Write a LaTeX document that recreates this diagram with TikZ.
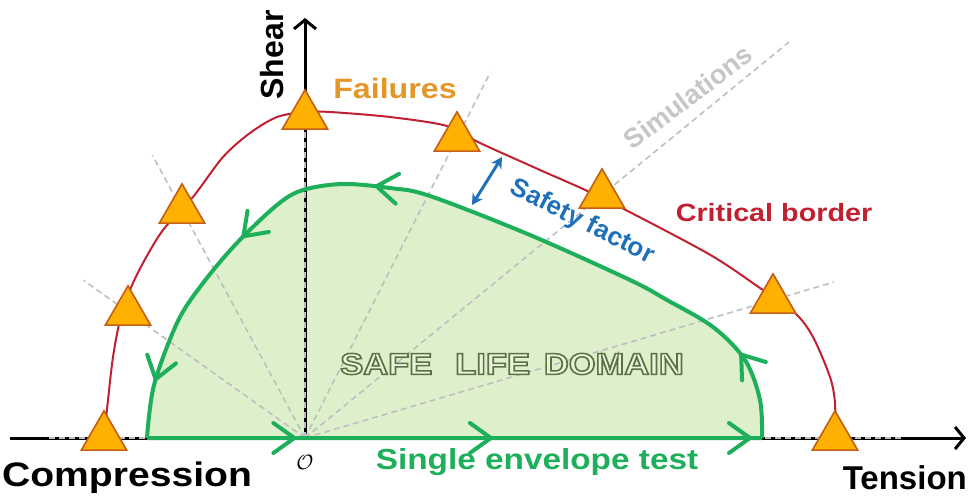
\documentclass[tikz,border=0pt]{standalone}
\usepackage{fontspec}
\setmainfont{Liberation Sans}
\usetikzlibrary{arrows.meta,calc,decorations.markings,shapes.geometric}
\definecolor{envgreen}{RGB}{30,175,90}
\definecolor{safegreen}{RGB}{222,239,203}
\definecolor{borderred}{RGB}{192,32,48}
\definecolor{failfill}{RGB}{255,176,0}
\definecolor{faildraw}{RGB}{196,96,24}
\definecolor{failtext}{RGB}{228,150,40}
\definecolor{safeblue}{RGB}{30,112,186}
\tikzset{
  failure/.style={regular polygon,regular polygon sides=3,minimum size=52pt,inner sep=0pt,
    fill=failfill,draw=faildraw,line width=1.5pt},
  ray/.style={gray!50,line width=1.6pt,dash pattern=on 6pt off 4pt},
  axis/.style={line width=3pt,-{Straight Barb[length=9pt,width=22pt,line width=3pt]}},
  lbl/.style={font=\bfseries,inner sep=0pt,xscale=1.15,transform shape},
  rlbl/.style={font=\bfseries,inner sep=0pt},
  chev/.style={decoration={markings,mark=at position #1 with
    {\draw[envgreen,line width=4pt,line cap=round,line join=round] (-21pt,15pt) -- (0pt,0pt) -- (-21pt,-15pt);}}},
  envelope/.style={envgreen,line width=4pt,line join=round,
    postaction={decorate,chev=0.099},postaction={decorate,chev=0.231},
    postaction={decorate,chev=0.405},postaction={decorate,chev=0.472},
    postaction={decorate,chev=0.745},postaction={decorate,chev=0.846},
    postaction={decorate,chev=0.960}},
}
\newcommand\outlinetext[1]{\special{pdf:literal direct 2 Tr 1.5 w 0.36 0.44 0.27 RG}#1\special{pdf:literal direct 0 Tr}}
\begin{document}
\begin{tikzpicture}[x=1pt,y=-1pt]
  \useasboundingbox (0,0) rectangle (968,495);
  \coordinate (O) at (305,438);
  \coordinate (xl) at (10,438);
  \coordinate (xr) at (966,438);
  \coordinate (yt) at (305,18);
  % envelope
  \coordinate (e0) at (147,438);
  \coordinate (e1) at (762,438);
  \fill[safegreen] (e0) -- (e1) plot[smooth,tension=0.55] coordinates {(e1) (760,400) (745,360) (713,327) (667,300) (630,280) (530,235) (430,196) (390,188) (343,184) (303,190) (277,205) (235,245) (200,287) (177,323) (154,385) (e0)} -- cycle;
  % axes
  \draw[axis] (xl) -- (xr);
  \draw[axis] (O) -- (yt);
  % failures
  \node[failure] (f1) at (104,437) {};
  \node[failure] (f2) at (128,312) {};
  \node[failure] (f3) at (182,210) {};
  \node[failure] (f4) at (305,116) {};
  \node[failure] (f5) at (457,138) {};
  \node[failure] (f6) at (602,195) {};
  \node[failure] (f7) at (773,300) {};
  \node[failure] (f8) at (835,437) {};
  % simulations
  \draw[ray] (O) -- (45,438);
  \draw[ray] (O) -- (903,438);
  \draw[ray] (O) -- ($(O)!1.05!(f4)$);
  \foreach \f/\k in {f2/1.25,f3/1.24,f5/1.22,f6/1.63,f7/1.13}
    \draw[ray] (O) -- ($(O)!\k!(\f)$);
  \draw[envelope] (e0) -- (e1) plot[smooth,tension=0.55] coordinates {(e1) (760,400) (745,360) (713,327) (667,300) (630,280) (530,235) (430,196) (390,188) (343,184) (303,190) (277,205) (235,245) (200,287) (177,323) (154,385) (e0)};
  % critical border
  \draw[borderred,line width=2pt] plot[smooth,tension=0.5] coordinates {(f1) (108,400) (113,357) (120,320) (130,290) (143,263) (163,230) (193,197) (223,157) (250,133) (277,117) (305,112) (330,112) (390,117) (447,126) (480,143) (540,170) (602,198) (707,253) (760,288) (795,313) (813,337) (830,377) (835,403) (f8)};
  \foreach \i in {1,...,8}
    \node[failure] at (f\i) {};
  % safety factor
  \coordinate (sf1) at (502,157);
  \coordinate (sf2) at (472,205);
  \draw[safeblue,line width=3pt,{Stealth[length=11pt,width=12pt]}-{Stealth[length=11pt,width=12pt]}] (sf1) -- (sf2);
  % labels
  \node[rlbl,rotate=90,font=\fontsize{32}{32}\selectfont\bfseries] (shear) at (272,55) {Shear};
  \node[lbl,failtext,font=\fontsize{28}{28}\selectfont\bfseries] (fail) at (395,88) {Failures};
  \node[rlbl,gray!45,rotate=37,font=\fontsize{27}{27}\selectfont\bfseries] (sim) at (688,97) {Simulations};
  \node[lbl,borderred,font=\fontsize{25}{25}\selectfont\bfseries] (crit) at (774,213) {Critical border};
  \node[rlbl,safeblue,rotate=-27,font=\fontsize{26}{26}\selectfont\bfseries] (safety) at (582,222) {Safety factor};
  \node[lbl,font=\fontsize{34}{34}\selectfont\bfseries] (comp) at (127,478) {Compression};
  \node[inner sep=0pt,font=\fontsize{22}{22}\selectfont] (orig) at (305,462) {$\mathcal{O}$};
  \node[lbl,envgreen,font=\fontsize{29}{29}\selectfont\bfseries] (single) at (537,462) {Single envelope test};
  \node[rlbl,anchor=east,font=\fontsize{33}{33}\selectfont\bfseries] (tens) at (967,478) {Tension};
  \node[lbl,safegreen!70!white,font=\fontsize{30}{30}\selectfont\bfseries] (domain) at (512,364)
    {\outlinetext{SAFE\hspace{20pt}LIFE\hspace{12pt}DOMAIN}};
\end{tikzpicture}
\end{document}
